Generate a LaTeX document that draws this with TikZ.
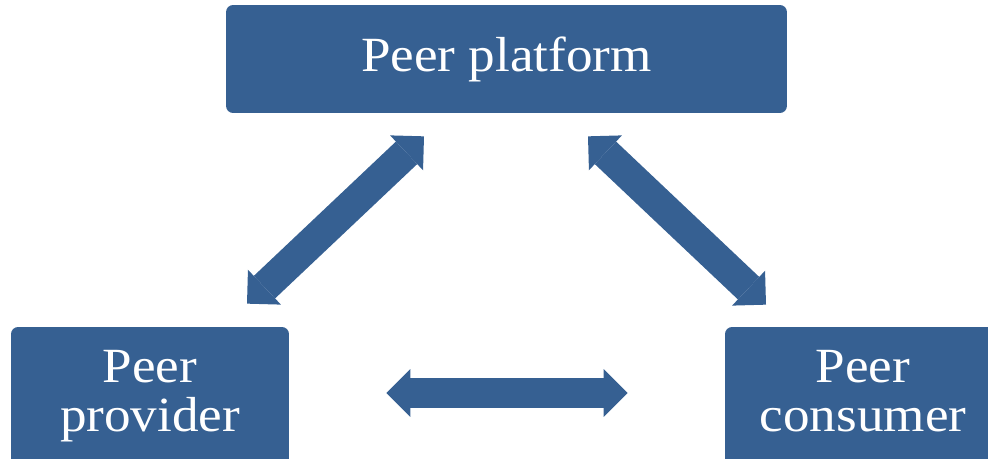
\documentclass[tikz,border=0pt]{standalone}
\usepackage{fontspec}
\setmainfont[FakeStretch=1.08]{Liberation Serif}
\usepackage{tikz}
\usetikzlibrary{arrows.meta, positioning}
\definecolor{peerblue}{RGB}{54,96,146}
\tikzset{peerbox/.style={fill=peerblue, rounded corners=4pt, text=white, align=center,
  font=\fontsize{28}{28}\selectfont, inner sep=0pt},
link/.style={peerblue, line width=0.62cm,
  {Triangle[width=0.96cm,length=0.48cm,line width=0pt]}-{Triangle[width=0.96cm,length=0.48cm,line width=0pt]}},
}

\begin{document}
\begin{tikzpicture}[x=0.02cm, y=-0.02cm]
	\clip (0,0) rectangle (988,459);
	\node[peerbox, minimum width=11.22cm, minimum height=2.16cm] (plat) at (506.5,59) {Peer platform};
	\node[peerbox, minimum width=5.56cm, minimum height=2.84cm] (prov) at (150,398) {Peer\\provider\strut};
	\node[peerbox, minimum width=5.52cm, minimum height=2.84cm] (cons) at (863,398) {Peer\\consumer\strut};
	% arrow ends, kept a little off the boxes
	\coordinate (plat-l) at ([shift={(-82.5,23)}]plat.south);
	\coordinate (plat-r) at ([shift={(81.5,23)}]plat.south);
	\coordinate (prov-t) at ([shift={(97,-23)}]prov.north);
	\coordinate (cons-t) at ([shift={(-97,-22)}]cons.north);
	\coordinate (prov-r) at ([shift={(97,-5)}]prov.east);
	\coordinate (cons-l) at ([shift={(-97,-5)}]cons.west);
	\draw[link] (prov-t) -- (plat-l);
	\draw[link] (plat-r) -- (cons-t);
	\draw[link] (prov-r) -- (cons-l);
\end{tikzpicture}
\end{document}
